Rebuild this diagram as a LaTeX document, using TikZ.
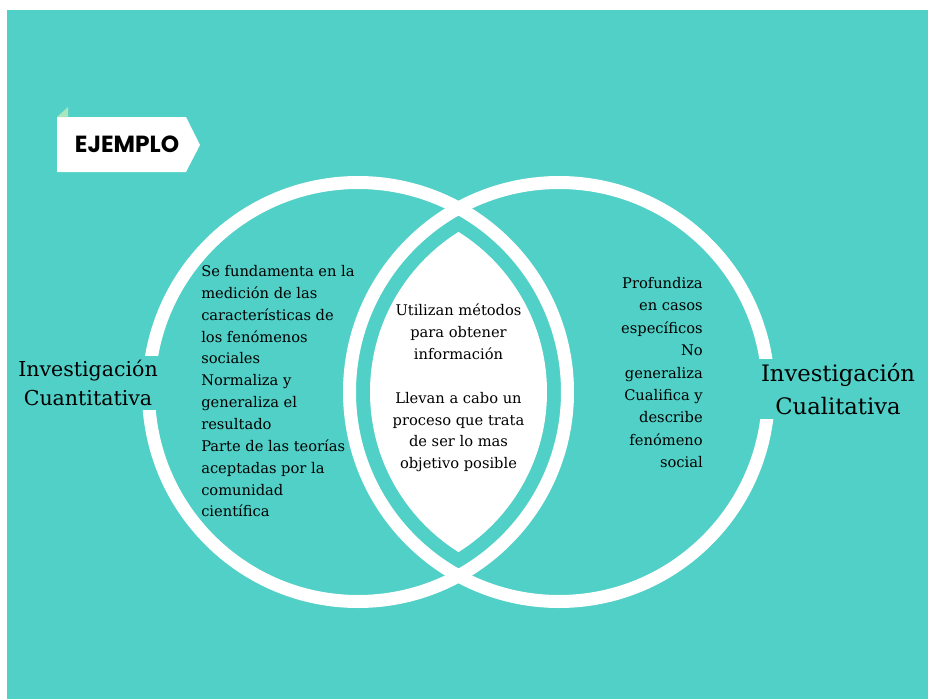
\documentclass[tikz,border=0pt]{standalone}
\usepackage{xcolor}
\usepackage{fontspec}
\setmainfont{DejaVu Serif}
\newfontfamily\tagfont{Poppins}
\usepackage{tikz}
\definecolor {teal}  {RGB}{080, 208, 198}
\definecolor {leaf}  {RGB}{168, 230, 190}

\tikzset{
	body/.style={inner sep=0pt, font=\fontsize{11}{16.4}\selectfont},
	label/.style={fill=teal, inner sep=3pt, align=center}
}

\begin{document}
\begin{tikzpicture}[x=0.75pt, y=-0.75pt]

	% Page and background
	\useasboundingbox (0, 0) rectangle (928, 699);
	\fill[white] (0, 0) rectangle (928, 699);
	\fill[teal] (7, 10) rectangle (928, 699);

	% Draw the two rings
	\foreach {\x} in {358, 559}
		\draw[white, line width=9.75pt] (\x, 392) circle (209.5);

	% Draw the lens in the middle
	\begin{scope}
		\clip (358, 392) circle (189);
		\fill[white] (559, 392) circle (189);
	\end{scope}

	% Draw the tag
	\fill[white] (57, 117) -- (186, 117) -- (200, 145) -- (186, 172) -- (57, 172) -- cycle;
	\fill[leaf] (57, 117) -- (68, 107) -- (68, 117) -- cycle;
	\node (tag) at (127, 144) {\tagfont\bfseries\fontsize{17.5}{20}\selectfont EJEMPLO};

	% Labels beside the rings
	\node[label, font=\fontsize{15.4}{21.8}\selectfont] (cuanti) at (88, 383) {Investigación\\Cuantitativa};
	\node[label, font=\fontsize{17}{24.8}\selectfont] (cuali) at (838, 389) {Investigación\\Cualitativa};

	% Texts inside the rings
	\node[body, anchor=north west, align=left] (left) at (201, 265) {Se fundamenta en la\\medición de las\\características de\\los fenómenos\\sociales\\Normaliza y\\generaliza el\\resultado\\Parte de las teorías\\aceptadas por la\\comunidad\\científica};

	\node[body, align=center] (middle) at (458.5, 388) {Utilizan métodos\\para obtener\\información\\[16.4pt]Llevan a cabo un\\proceso que trata\\de ser lo mas\\objetivo posible};

	\node[body, anchor=north east, align=right, font=\fontsize{11}{16.8}\selectfont] (right) at (703, 277) {Profundiza\\en casos\\específicos\\No\\generaliza\\Cualifica y\\describe\\fenómeno\\social};

\end{tikzpicture}
\end{document}
